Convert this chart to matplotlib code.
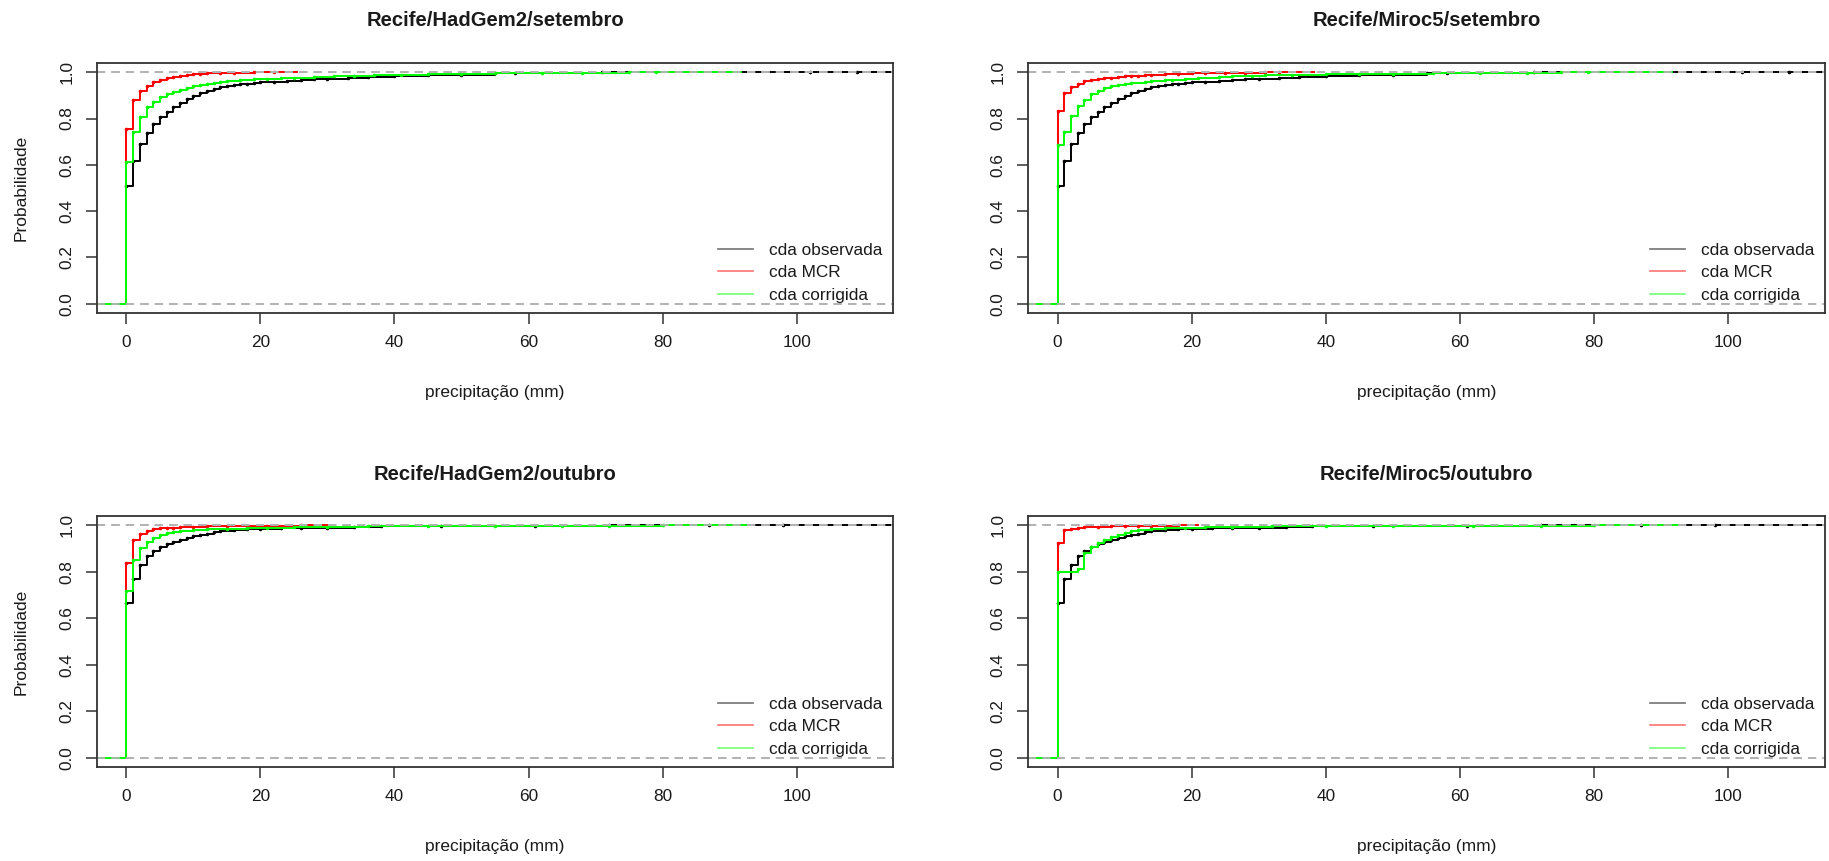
import matplotlib
matplotlib.use("Agg")
import matplotlib.pyplot as plt
from matplotlib.lines import Line2D

plt.rcParams["font.family"] = ["Liberation Sans", "DejaVu Sans"]

# ── dados: cdf empírica da precipitação diária (mm) ─────────────────
# observada, setembro (mesma série nos dois painéis de cima)
obs_set_mm = [0, 1, 2, 3, 4, 5, 6, 7, 8, 9, 10, 11, 12, 13, 14, 15, 16, 17, 18, 19,
              20, 22, 24, 26, 28, 30, 33, 36, 40, 45, 50, 55, 58, 71, 102, 109]
obs_set_p = [.509, .616, .690, .738, .776, .807, .829, .851, .868, .884, .898, .910,
             .920, .928, .935, .940, .944, .948, .951, .954, .956, .960, .964, .967,
             .969, .971, .975, .978, .984, .987, .990, .998, .9985, .999, .9995, 1.0]

# HadGem2 / setembro
had_set_mm = [0, 1, 2, 3, 4, 5, 6, 7, 8, 9, 10, 11, 12, 14, 16, 19, 22]
had_set_p = [.757, .882, .918, .940, .958, .968, .975, .980, .984, .988, .991, .993,
             .995, .997, .998, .999, 1.0]
had_set_cor_mm = [0, 1, 2, 3, 4, 5, 6, 7, 8, 9, 10, 11, 12, 13, 14, 15, 17, 19, 21,
                  23, 25, 28, 31, 34, 37, 41, 45, 50, 55, 62, 68, 75, 79]
had_set_cor_p = [.614, .743, .807, .848, .872, .891, .906, .916, .925, .933, .940,
                 .946, .951, .955, .959, .962, .966, .969, .972, .975, .977, .980,
                 .983, .986, .988, .990, .992, .994, .996, .997, .998, .999, 1.0]

# Miroc5 / setembro
mir_set_mm = [0, 1, 2, 3, 4, 5, 6, 7, 8, 9, 10, 11, 12, 13, 14, 16, 18, 20, 22, 25,
              28, 31, 33]
mir_set_p = [.833, .911, .937, .951, .961, .966, .970, .974, .977, .980, .982, .984,
             .986, .988, .989, .991, .993, .995, .996, .997, .998, .999, 1.0]
mir_set_cor_mm = [0, 1, 2, 3, 4, 5, 6, 7, 8, 9, 10, 11, 13, 14, 16, 17, 19, 21, 24,
                  26, 29, 31, 35, 40, 45, 50, 56, 63, 70, 75, 79]
mir_set_cor_p = [.685, .743, .810, .853, .879, .904, .919, .930, .940, .947, .951,
                 .955, .958, .963, .966, .968, .973, .977, .980, .983, .986, .987,
                 .989, .991, .993, .994, .997, .998, .9985, .999, 1.0]

# observada, outubro (painéis de baixo)
obs_out_mm = [0, 1, 2, 3, 4, 5, 6, 7, 8, 9, 10, 11, 12, 13, 14, 16, 18, 20, 23, 26,
              30, 34, 38, 47, 61, 72, 87, 98]
obs_out_p = [.667, .767, .828, .866, .889, .906, .918, .928, .937, .945, .952, .958,
             .964, .970, .975, .979, .982, .985, .987, .989, .990, .992, .998, .9985,
             .999, .9993, .9996, 1.0]

# HadGem2 / outubro
had_out_mm = [0, 1, 2, 3, 4, 5, 6, 7, 8, 10, 12, 15, 18, 21, 24, 26]
had_out_p = [.838, .935, .964, .975, .982, .987, .989, .990, .991, .993, .995, .996,
             .997, .998, .999, 1.0]
had_out_cor_mm = [0, 1, 2, 3, 4, 5, 6, 7, 8, 10, 12, 15, 18, 21, 25, 30, 36, 45, 55,
                  65, 72, 80]
had_out_cor_p = [.717, .852, .902, .928, .945, .958, .967, .973, .977, .980, .982,
                 .984, .987, .989, .991, .993, .995, .997, .998, .9985, .999, 1.0]

# Miroc5 / outubro
mir_out_mm = [0, 1, 2, 3, 4, 6, 8, 10, 12, 14, 16, 18]
mir_out_p = [.924, .978, .985, .990, .992, .994, .995, .996, .997, .998, .999, 1.0]
mir_out_cor_mm = [0, 3, 4, 5, 6, 7, 8, 9, 10, 11, 12, 14, 16, 19, 22, 26, 32, 40, 50,
                  62, 72, 80]
mir_out_cor_p = [.799, .810, .881, .907, .924, .938, .950, .960, .968, .975, .980,
                 .984, .987, .990, .992, .994, .996, .997, .998, .9985, .999, 1.0]

panel_titles = ["Recife/HadGem2/setembro", "Recife/Miroc5/setembro",
                "Recife/HadGem2/outubro", "Recife/Miroc5/outubro"]
legend_labels = ["cda observada", "cda MCR", "cda corrigida"]
x_ticks = [0, 20, 40, 60, 80, 100]
y_ticks = [0.0, 0.2, 0.4, 0.6, 0.8, 1.0]
x_label = "precipitação (mm)"
y_label = "Probabilidade"

panels = [
    (panel_titles[0], (obs_set_mm, obs_set_p), (had_set_mm, had_set_p), (had_set_cor_mm, had_set_cor_p)),
    (panel_titles[1], (obs_set_mm, obs_set_p), (mir_set_mm, mir_set_p), (mir_set_cor_mm, mir_set_cor_p)),
    (panel_titles[2], (obs_out_mm, obs_out_p), (had_out_mm, had_out_p), (had_out_cor_mm, had_out_cor_p)),
    (panel_titles[3], (obs_out_mm, obs_out_p), (mir_out_mm, mir_out_p), (mir_out_cor_mm, mir_out_cor_p)),
]

# ── estilo ─────────────────────────────────────────────────────────
COR_OBS = "#000000"
COR_MCR = "#ff0000"
COR_CORR = "#00ff00"
COR_01 = "#b3b3b3"      # gray70
TXT = "#1a1a1a"
XLIM = (0, 110)
LW = 1.4

W, H = 1829, 861
# caixas dos painéis em pixels: esquerda, topo, direita, base
boxes = [(97, 63, 893, 313), (1028, 63, 1825, 313),
         (97, 516, 893, 767), (1028, 516, 1825, 767)]


def ecdf(ax, x, p, color, first=False):
    """Degraus da cdf com verticais e pontos nos saltos, como plot.ecdf."""
    if first:
        ends = (-1000, 1000)
    else:
        dr = 0.08 * (max(x) - min(x))
        ends = (min(x) - 2 * dr, max(x) + 2 * dr)
    xs = [ends[0]] + list(x) + [ends[1]]
    ys = [0.0] + list(p) + [p[-1]]
    ax.plot(xs, ys, drawstyle="steps-post", color=color, lw=LW)
    ax.plot(x, p, ls="none", marker="o", ms=2.6, mew=0, color=color)
    for h in (0, 1):
        ax.axhline(h, color=COR_01, lw=1.3, ls=(0, (4.5, 3.5)))


fig = plt.figure(figsize=(W / 100, H / 100), dpi=100)

for i, (title, obs, mcr, cor) in enumerate(panels):
    l, t, r, b = boxes[i]
    ax = fig.add_axes([l / W, 1 - b / H, (r - l) / W, (b - t) / H])

    ecdf(ax, *obs, COR_OBS, first=True)
    ecdf(ax, *mcr, COR_MCR)
    ecdf(ax, *cor, COR_CORR)

    span = XLIM[1] - XLIM[0]
    ax.set_xlim(XLIM[0] - 0.04 * span, XLIM[1] + 0.04 * span)
    ax.set_ylim(-0.04, 1.04)
    ax.set_xticks(x_ticks)
    ax.set_yticks(y_ticks)
    ax.set_yticklabels([f"{v:.1f}" for v in y_ticks])

    for s in ax.spines.values():
        s.set_linewidth(1.3)
        s.set_color("#333333")
    ax.tick_params(direction="out", length=8, width=1.1, color="#333333",
                   labelsize=12.4, labelcolor=TXT, pad=8)
    ax.tick_params(axis="y", labelrotation=90)
    for lab in ax.get_yticklabels():
        lab.set_va("center")

    ax.set_title(title, fontsize=14.6, fontweight="bold", color=TXT,
                 y=1 + 42 / (b - t), va="center", pad=0)
    ax.set_xlabel(x_label, fontsize=12.5, color=TXT)
    ax.xaxis.set_label_coords(0.5, -79 / (b - t))
    ax.xaxis.label.set_va("center")
    if i % 2 == 0:
        ax.set_ylabel(y_label, fontsize=12.5, color=TXT)
        ax.yaxis.set_label_coords(-76 / (r - l), 0.5)
        ax.yaxis.label.set_va("center")

    handles = [Line2D([], [], color=c, lw=1.2, alpha=0.55)
               for c in (COR_OBS, COR_MCR, COR_CORR)]
    ax.legend(handles, legend_labels, loc="lower right", frameon=False,
              fontsize=12.4, handlelength=2.0, handletextpad=0.95,
              labelspacing=0.43, borderaxespad=0.2, borderpad=0.4,
              labelcolor=TXT)

fig.savefig("out.png", dpi=100)
